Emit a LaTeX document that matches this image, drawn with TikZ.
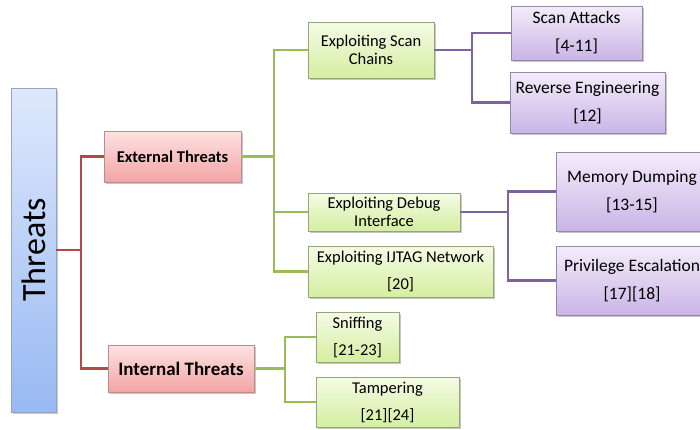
\documentclass[tikz,border=0pt]{standalone}
\usepackage{fontspec}
\setmainfont{Carlito}
\usetikzlibrary{shadows}
\definecolor{redline}{RGB}{178,74,72}
\definecolor{greenline}{RGB}{155,187,89}
\definecolor{purpleline}{RGB}{124,98,158}
\definecolor{bluetop}{RGB}{222,232,252}
\definecolor{bluebot}{RGB}{152,185,242}
\definecolor{redtop}{RGB}{253,226,226}
\definecolor{redbot}{RGB}{243,164,164}
\definecolor{greentop}{RGB}{245,251,230}
\definecolor{greenbot}{RGB}{212,238,160}
\definecolor{purptop}{RGB}{243,236,250}
\definecolor{purpbot}{RGB}{201,181,230}
\definecolor{blueedge}{RGB}{150,165,195}
\definecolor{rededge}{RGB}{190,140,140}
\definecolor{greenedge}{RGB}{150,165,120}
\definecolor{purpedge}{RGB}{150,135,170}
\tikzset{
  basebox/.style={inner sep=0pt, align=center, line width=0.8pt,
    drop shadow={shadow xshift=1.5pt, shadow yshift=-1.8pt, fill=black, opacity=0.22}},
  bluebox/.style={basebox, draw=blueedge, top color=bluetop, bottom color=bluebot},
  redbox/.style={basebox, draw=rededge, top color=redtop, bottom color=redbot},
  greenbox/.style={basebox, draw=greenedge, top color=greentop, bottom color=greenbot},
  purpbox/.style={basebox, draw=purpedge, top color=purptop, bottom color=purpbot},
  rl/.style={draw=redline, line width=2.2pt},
  gl/.style={draw=greenline, line width=2.2pt},
  pl/.style={draw=purpleline, line width=2.2pt},
  gtight/.style={font=\fontsize{16.5}{18}\selectfont},
  gwide/.style={font=\fontsize{16.5}{27}\selectfont},
  ptext/.style={font=\fontsize{17.5}{28}\selectfont},
}
\begin{document}
\begin{tikzpicture}[x=1pt,y=1pt]
\useasboundingbox (0,0) rectangle (700,-429);
\fill[white] (0,0) rectangle (700,-429);

% level 0
\node[bluebox, minimum width=45pt, minimum height=324pt] (threats) at (33.5,-250)
  {\rotatebox{90}{\fontsize{34}{34}\selectfont Threats}};

% level 1
\node[redbox, minimum width=137pt, minimum height=51pt, font=\fontsize{16.5}{20}\selectfont\bfseries] (ext) at (172.5,-156.5) {External Threats};
\node[redbox, minimum width=146pt, minimum height=47pt, font=\fontsize{19}{22}\selectfont\bfseries] (int) at (181,-368.5) {Internal Threats};

% level 2
\node[greenbox, gtight, minimum width=126pt, minimum height=56pt] (chains) at (371,-50) {Exploiting Scan\\Chains};
\node[greenbox, gtight, minimum width=152pt, minimum height=38pt] (debug) at (384,-212) {Exploiting Debug\\Interface};
\node[greenbox, gwide, minimum width=185pt, minimum height=51pt] (ijtag) at (400.5,-271.5) {Exploiting IJTAG Network\\{[}20{]}};
\node[greenbox, gwide, minimum width=83pt, minimum height=50pt] (sniff) at (357.5,-337) {Sniffing\\{[}21-23{]}};
\node[greenbox, gwide, minimum width=143pt, minimum height=50pt] (tamper) at (387.5,-402) {Tampering\\{[}21{]}{[}24{]}};

% level 3
\node[purpbox, ptext, minimum width=131pt, minimum height=54pt] (scanatk) at (576.5,-33) {Scan Attacks\\{[}4-11{]}};
\node[purpbox, ptext, minimum width=155pt, minimum height=61pt] (reverse) at (587.5,-102.5) {Reverse Engineering\\{[}12{]}};
\node[purpbox, ptext, minimum width=152pt, minimum height=79pt] (memory) at (632,-191.5) {Memory Dumping\\{[}13-15{]}};
\node[purpbox, ptext, minimum width=152pt, minimum height=69pt] (priv) at (632,-280.5) {Privilege Escalation\\{[}17{]}{[}18{]}};

% junctions
\coordinate (j0) at (81,-250);
\coordinate (j1) at (274,-156.5);
\coordinate (j2) at (285,-368.5);
\coordinate (j3) at (472,-50);
\coordinate (j4) at (508,-212);

% connectors
\draw[rl] (threats.east) -- (j0);
\draw[rl] (ext.west) -| (j0) |- (int.west);

\draw[gl] (ext.east) -- (j1);
\draw[gl] (chains.west) -| (j1) |- (ijtag.west);
\draw[gl] (debug.west) -- (debug.west -| j1);

\draw[gl] (int.east) -- (j2);
\draw[gl] (sniff.west) -| (j2) |- (tamper.west);

\draw[pl] (chains.east) -- (j3);
\draw[pl] (scanatk.west) -| (j3) |- (reverse.west);

\draw[pl] (debug.east) -- (j4);
\draw[pl] (memory.west) -| (j4) |- (priv.west);
\end{tikzpicture}
\end{document}
